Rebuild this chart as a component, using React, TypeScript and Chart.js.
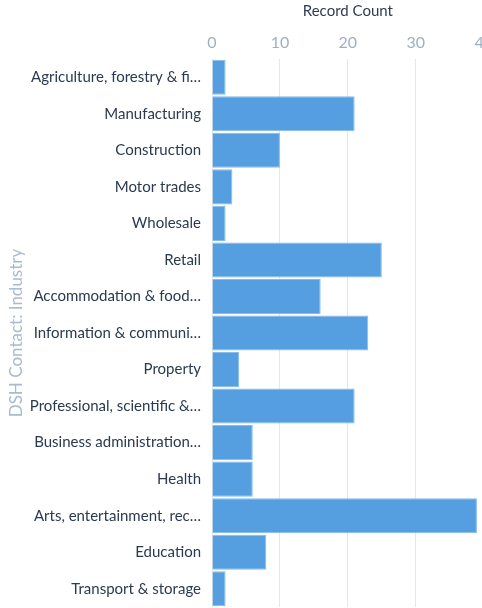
import React, { useEffect, useRef } from "react";
import { Chart, registerables } from "chart.js";

Chart.register(...registerables);

const categories = [
  "Agriculture, forestry & fi…",
  "Manufacturing",
  "Construction",
  "Motor trades",
  "Wholesale",
  "Retail",
  "Accommodation & food…",
  "Information & communi…",
  "Property",
  "Professional, scientific &…",
  "Business administration…",
  "Health",
  "Arts, entertainment, rec…",
  "Education",
  "Transport & storage",
];
const recordCounts = [2, 21, 10, 3, 2, 25, 16, 23, 4, 21, 6, 6, 39, 8, 2];
const xTicks = [0, 10, 20, 30, 40];
const xTitle = "Record Count";
const yTitle = "DSH Contact: Industry";

export default function App() {
  const ref = useRef<HTMLCanvasElement | null>(null);
  useEffect(() => {
    document.body.style.margin = "0";
    document.body.style.overflow = "hidden";
    const canvas = ref.current!;
    const chart = new Chart(canvas, {
      type: "bar",
      data: {
        labels: categories,
        datasets: [
          {
            data: recordCounts,
            backgroundColor: "#559fe0",
            borderColor: "#86bbea",
            borderWidth: 1,
            barPercentage: 1,
            categoryPercentage: 0.96,
          },
        ],
      },
      options: {
        indexAxis: "y",
        animation: false,
        responsive: false,
        maintainAspectRatio: false,
        layout: { padding: { left: 6, right: 0, top: 0, bottom: 1 } },
        plugins: { legend: { display: false }, tooltip: { enabled: false } },
        scales: {
          x: {
            position: "top",
            min: 0,
            max: 40,
            afterBuildTicks: (s: any) => {
              s.ticks = xTicks.map((v) => ({ value: v }));
            },
            ticks: {
              color: "#9fb0c4",
              font: { family: "Lato", size: 16 },
              padding: 7,
            },
            grid: { color: "#e3e7ee", drawTicks: false, lineWidth: 1 },
            border: { display: false },
            title: {
              display: true,
              text: xTitle,
              color: "#2f3d52",
              font: { family: "Lato", size: 15 },
              padding: { top: 2, bottom: 6 },
            },
            afterFit: (s: any) => {
              s.height = 59;
            },
          },
          y: {
            grid: { display: false, drawTicks: false },
            border: { display: false },
            ticks: {
              color: "#2b3a4f",
              font: { family: "Lato", size: 15 },
              padding: 11,
              autoSkip: false,
            },
            title: {
              display: true,
              text: yTitle,
              color: "#a9bbcf",
              font: { family: "Lato", size: 17 },
              padding: { top: 0, bottom: 0 },
            },
            afterFit: (s: any) => {
              s.width = 206;
              s.paddingTop = 0;
              s.paddingBottom = 0;
            },
          },
        },
      },
    });
    return () => chart.destroy();
  }, []);
  return (
    <div
      style={{
        position: "fixed",
        left: 0,
        top: 0,
        width: 482,
        height: 608,
        overflow: "hidden",
        background: "#fff",
      }}
    >
      <canvas ref={ref} width={500} height={608} style={{ display: "block" }} />
    </div>
  );
}
